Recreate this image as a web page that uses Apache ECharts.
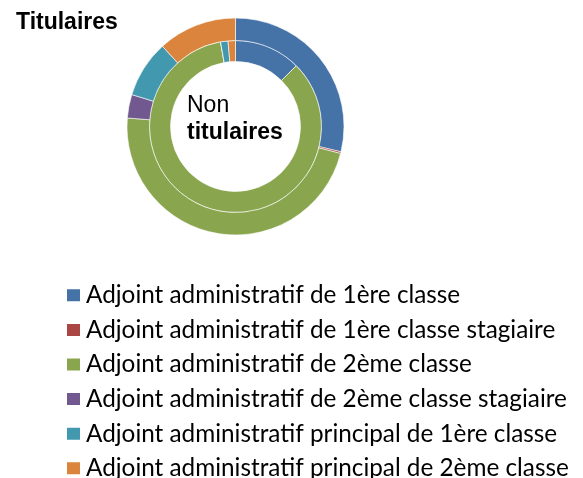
<!DOCTYPE html>
<html><head><meta charset="utf-8">
<script src="https://cdn.jsdelivr.net/npm/echarts@6/dist/echarts.min.js"></script>
<style>html,body{margin:0;padding:0;background:#fff}#c{width:583px;height:478px}</style>
</head><body><div id="c"></div>
<script>
var categories = [
  "Adjoint administratif de 1ère classe",
  "Adjoint administratif de 1ère classe stagiaire",
  "Adjoint administratif de 2ème classe",
  "Adjoint administratif de 2ème classe stagiaire",
  "Adjoint administratif principal de 1ère classe",
  "Adjoint administratif principal de 2ème classe"
];
var titulaires = [115, 1, 189, 14, 34, 47];
var nonTitulaires = [9, 0, 61, 0, 1, 1];
var colors = ["#4572A7", "#AA4643", "#89A54E", "#71588F", "#4198AF", "#DB843D"];

function toData(vals){ return categories.map(function(n,i){ return {name:n, value:vals[i]}; }); }

var chart = echarts.init(document.getElementById('c'));
chart.setOption({
  animation:false,
  color: colors,
  title: [
    {text:'Titulaires', left:16, top:11, padding:0, textStyle:{fontFamily:'Liberation Sans', fontSize:23, fontWeight:'bold', color:'#000', lineHeight:23}},
    {text:'{a|Non}\n{b|titulaires}', left:187, top:92, padding:0, textStyle:{fontWeight:'normal', rich:{
      a:{fontFamily:'Liberation Sans', fontSize:23, fontWeight:'normal', color:'#000', lineHeight:27},
      b:{fontFamily:'Liberation Sans', fontSize:23, fontWeight:'bold', color:'#000', lineHeight:27}}}}
  ],
  legend: {
    orient:'vertical', left:65, top:278, height:260, padding:0, itemWidth:15, itemHeight:14, itemGap:0,
    icon:'rect', data: categories,
    textStyle:{fontFamily:'Lato', fontSize:24.3, color:'#000', lineHeight:34.6}
  },
  series: [
    {type:'pie', name:'Non titulaires', center:[235.5,126.5], radius:[65,86], startAngle:90, clockwise:true,
     label:{show:false}, labelLine:{show:false}, avoidLabelOverlap:false, silent:true,
     itemStyle:{borderColor:'#fff', borderWidth:0.6}, data: toData(nonTitulaires)},
    {type:'pie', name:'Titulaires', center:[235.5,126.5], radius:[86,108.5], startAngle:90, clockwise:true,
     label:{show:false}, labelLine:{show:false}, avoidLabelOverlap:false, silent:true,
     itemStyle:{borderColor:'#fff', borderWidth:0.6}, data: toData(titulaires)}
  ]
});
</script></body></html>
